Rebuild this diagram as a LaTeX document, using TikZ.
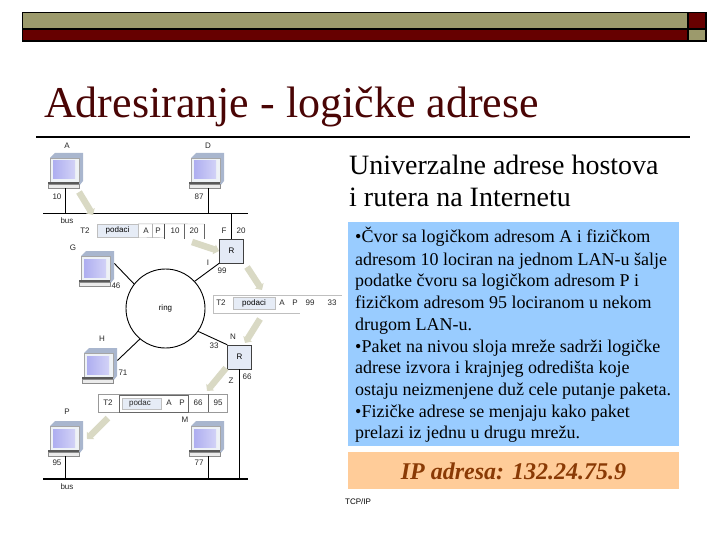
\documentclass[tikz,border=0pt]{standalone}
\usepackage{fontspec}
\setmainfont{Liberation Serif}
\setsansfont{Liberation Sans}
\usetikzlibrary{arrows.meta}
\definecolor{barolive}{HTML}{9C9A6C}
\definecolor{barred}{HTML}{660000}
\definecolor{titlered}{HTML}{4A0505}
\definecolor{boxblue}{HTML}{99CCFF}
\definecolor{boxorange}{HTML}{FFCC99}
\definecolor{ipbrown}{HTML}{8A3A05}
\definecolor{pktblue}{HTML}{E6ECF6}
\definecolor{routerblue}{HTML}{E4EAF6}
\definecolor{hopkhaki}{HTML}{D9D9C4}
\definecolor{screenblue}{HTML}{AEAEF0}
\definecolor{casegrey}{HTML}{EEF2F6}
\definecolor{caseside}{HTML}{A9B6CE}
\tikzset{
  small/.style={font=\sffamily\fontsize{8}{9}\selectfont,inner sep=0pt,text=black!85},
  wire/.style={line width=0.9pt,black},
  router/.style={draw=black!75,fill=routerblue,minimum width=24pt,minimum height=24pt,inner sep=0pt,font=\sffamily\fontsize{8}{9}\selectfont},
  hop/.style={line width=6.5pt,hopkhaki,-{Triangle[length=5pt,width=10pt]}},
  pktdata/.style={draw=black!25,fill=pktblue,inner sep=0pt,font=\sffamily\fontsize{8}{9}\selectfont},
  bodytext/.style={anchor=base west,inner sep=0pt,font=\fontsize{18}{18}\selectfont},
  headtext/.style={anchor=base west,inner sep=0pt,font=\fontsize{28}{28}\selectfont},
}
% one computer: #1 name, (#2,#3) upper left corner
\newcommand{\compu}[3]{
  \fill[caseside] (#2+2,#3+6) -- (#2+7,#3+1) -- (#2+35,#3+1) -- (#2+35,#3+29) -- (#2+31,#3+34) -- (#2+31,#3+6) -- cycle;
  \fill[casegrey,draw=black!35,line width=0.3pt] (#2+2,#3+6) rectangle (#2+31,#3+30);
  \shade[left color=screenblue,right color=screenblue!55!white] (#2+5,#3+9) rectangle (#2+27,#3+27);
  \fill[black!65] (#2,#3+30) rectangle (#2+31,#3+32);
  \fill[black!8,draw=black!45,line width=0.3pt] (#2,#3+32) rectangle (#2+31,#3+36);
  \node[inner sep=0pt,minimum width=35pt,minimum height=36pt,anchor=north west] (#1) at (#2,#3) {};
}
\begin{document}
\begin{tikzpicture}[x=1pt,y=-1pt]
  \useasboundingbox (0,0) rectangle (720,540);
  % top bars
  \draw[line width=1.4pt,fill=barolive] (22.5,12.5) rectangle (688,29);
  \draw[line width=1.4pt,fill=barred] (22.5,29) rectangle (688,41);
  \draw[line width=1.4pt,fill=barred] (688,12.5) rectangle (706,29);
  \draw[line width=1.4pt,fill=barolive] (688,29) rectangle (706,41);
  \node[anchor=base west,inner sep=0pt,text=titlered,font=\fontsize{44}{44}\selectfont] (title) at (44,118) {Adresiranje - logičke adrese};
  \coordinate (ruleL) at (36,137);
  \coordinate (ruleR) at (690,137);
  \draw[line width=1.4pt] (ruleL) -- (ruleR);

  % computers
  \compu{a}{48}{152}
  \compu{d}{189}{152}
  \compu{g}{79}{250}
  \compu{h}{82}{347}
  \compu{p}{48}{420}
  \compu{m}{189}{420}
  \node[small] (la) at (67,146) {A};
  \node[small] (ld) at (208,146) {D};
  \node[small] (lg) at (73,248) {G};
  \node[small] (lh) at (102,339) {H};
  \node[small] (lp) at (67,412) {P};
  \node[small] (lm) at (185,420) {M};
  \node[small] (n10) at (57,197) {10};
  \node[small] (n87) at (199,197) {87};
  \node[small] (n46) at (116,286) {46};
  \node[small] (n71) at (123,373) {71};
  \node[small] (n95) at (57,463) {95};
  \node[small] (n77) at (199,463) {77};

  % buses, routers, ring
  \coordinate (bus1L) at (43,213);
  \coordinate (bus1R) at (248,213);
  \coordinate (bus2L) at (43,479);
  \coordinate (bus2R) at (248,479);
  \draw[wire] (bus1L) -- (bus1R);
  \draw[wire,line width=1.2pt] (bus2L) -- (bus2R);
  \node[small] (lbus1) at (67,221) {bus};
  \node[small] (lbus2) at (67,487) {bus};
  \node[router] (r1) at (231.5,251) {R};
  \node[router] (r2) at (239.5,357) {R};
  \node[draw,wire,circle,minimum size=79pt,inner sep=0pt,font=\sffamily\fontsize{8}{9}\selectfont] (ring) at (165.5,308.5) {ring};
  \node[small] (lf) at (224,231) {F};
  \node[small] (n20) at (241,231) {20};
  \node[small] (li) at (208,263) {I};
  \node[small] (n99) at (222,271) {99};
  \node[small] (ln) at (233,337) {N};
  \node[small] (n33) at (214,346) {33};
  \node[small] (lz) at (231,381) {Z};
  \node[small] (n66) at (247,377) {66};
  \draw[wire] (a.south) -- (a.south |- bus1L);
  \draw[wire] ([xshift=1.5pt]d.south) -- ([xshift=1.5pt]d.south |- bus1L);
  \draw[wire] (p.south) -- (p.south |- bus2L);
  \draw[wire] ([xshift=1.5pt]m.south) -- ([xshift=1.5pt]m.south |- bus2L);
  \draw[wire] (r1.north) -- (r1.north |- bus1R);
  \draw[wire] (r2.south) -- (r2.south |- bus2R);
  \draw[wire] (r1.south west) -- (ring.43);
  \draw[wire] (r2.north west) -- (ring.-35);
  \draw[wire] (g.15) -- (ring.142);
  \draw[wire] (h.15) -- (ring.230);

  % packet 1
  \node[small] (t1) at (85,231) {T2};
  \node[pktdata,minimum width=41pt,minimum height=13pt] (d1) at (117.5,230.5) {podaci};
  \node[small] (a1) at (146,231) {A};
  \node[small] (p1) at (158,231) {P};
  \node[small] (s1) at (175,231) {10};
  \node[small] (e1) at (194,231) {20};
  \draw[black!30] (d1.north east) -- (204,224);
  \draw[black!30] (d1.south east) -- (164,237.5);
  \draw[black!30] (152,224) -- (152,237.5);
  \draw[black!70] (164,224) -- (164,239);
  \draw[black!60] (184,224) -- (184,239);
  \draw[black!60] (204,224) -- (204,239);

  % packet 2
  \node[small] (t2) at (221,303) {T2};
  \node[pktdata,minimum width=42pt,minimum height=12pt] (d2) at (254,303) {podaci};
  \node[small] (a2) at (282,303) {A};
  \node[small] (p2) at (295,303) {P};
  \node[small] (s2) at (310,303) {99};
  \node[small] (e2) at (332,303) {33};
  \draw[black!25] (213,295) -- (342,295);
  \draw[black!25] (213,313) -- (300,313);
  \draw[black!25] (213,295) -- (213,313);

  % packet 3
  \draw[black!40,fill=white] (98,394) rectangle (227,412);
  \draw[black!60,line width=0.8pt] (119,395.5) rectangle (188,412);
  \node[small] (t3) at (108,403) {T2};
  \node[pktdata,fill=pktblue,minimum width=39pt,minimum height=11pt] (d3) at (141.5,403.5) {};
  \node[small] (d3t) at (140,403) {podac};
  \node[small] (a3) at (169,403) {A};
  \node[small] (p3) at (182,403) {P};
  \node[small] (s3) at (198,403) {66};
  \node[small] (e3) at (218,403) {95};
  \draw[black!60] (208,394) -- (208,412);

  % hops
  \coordinate (hop1a) at (79,192); \coordinate (hop1b) at (93,215);
  \coordinate (hop2a) at (192,242); \coordinate (hop2b) at (219,251);
  \coordinate (hop3a) at (247,267); \coordinate (hop3b) at (262,290);
  \coordinate (hop4a) at (260,319); \coordinate (hop4b) at (245,343);
  \coordinate (hop5a) at (226,368); \coordinate (hop5b) at (207,391);
  \coordinate (hop6a) at (108,418); \coordinate (hop6b) at (87,439);
  \foreach \i in {1,...,6}
    \draw[hop] (hop\i a) -- (hop\i b);

  % right side
  \node[headtext] (head1) at (349,175) {Univerzalne adrese hostova};
  \node[headtext] (head2) at (349,207) {i rutera na Internetu};
  \fill[boxblue] (348,222) rectangle (679,446);
  \fill[boxorange] (348,452) rectangle (679,489);
  \node[bodytext] (l1) at (355,243) {•Čvor sa logičkom adresom A i fizičkom};
  \node[bodytext] (l2) at (355,265) {adresom 10 lociran na jednom LAN-u šalje};
  \node[bodytext] (l3) at (355,286) {podatke čvoru sa logičkom adresom P i};
  \node[bodytext] (l4) at (355,308) {fizičkom adresom 95 lociranom u nekom};
  \node[bodytext] (l5) at (355,330) {drugom LAN-u.};
  \node[bodytext] (l6) at (355,352) {•Paket na nivou sloja mreže sadrži logičke};
  \node[bodytext] (l7) at (355,373) {adrese izvora i krajnjeg odredišta koje};
  \node[bodytext] (l8) at (355,395) {ostaju neizmenjene duž cele putanje paketa.};
  \node[bodytext] (l9) at (355,417) {•Fizičke adrese se menjaju kako paket};
  \node[bodytext] (l10) at (355,438) {prelazi iz jednu u drugu mrežu.};
  \node[anchor=base,inner sep=0pt,text=ipbrown,font=\fontsize{24}{24}\selectfont\itshape\bfseries] (ip) at (513.5,479) {IP adresa: 132.24.75.9};
  \node[anchor=base west,inner sep=0pt,font=\sffamily\fontsize{8}{8}\selectfont] (tcp) at (345,504) {TCP/IP};
\end{tikzpicture}
\end{document}
